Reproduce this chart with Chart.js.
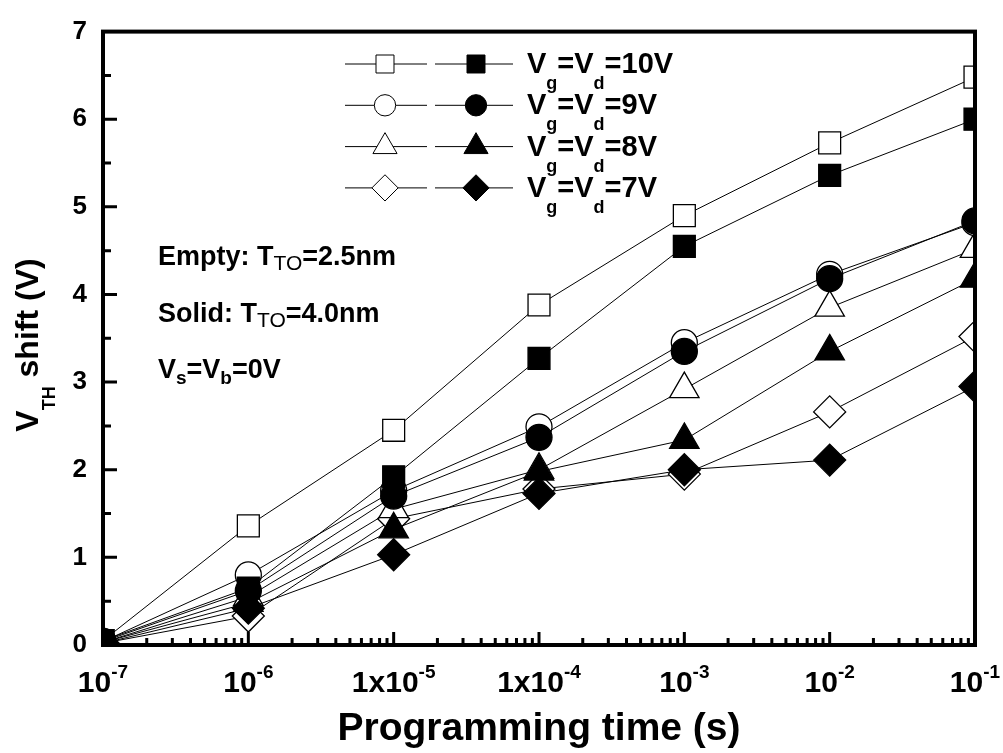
<!DOCTYPE html>
<html>
<head>
<meta charset="utf-8">
<script src="https://cdn.jsdelivr.net/npm/chart.js@4"></script>
<style>
  body { margin: 0; background: #fff; }
  #wrap { width: 1003px; height: 753px; }
</style>
</head>
<body>
<div id="wrap"><canvas id="grafico"></canvas></div>
<script>
// Datos
const times = [1e-7, 1e-6, 1e-5, 1e-4, 1e-3, 1e-2, 1e-1];
const voltages = ['10V', '9V', '8V', '7V'];
const empty10 = [0.05, 1.36, 2.45, 3.88, 4.90, 5.73, 6.48];
const solid10 = [0.05, 0.65, 1.92, 3.27, 4.55, 5.36, 6.00];
const empty9 = [0.04, 0.80, 1.76, 2.49, 3.45, 4.23, 4.82];
const solid9 = [0.04, 0.62, 1.70, 2.37, 3.35, 4.18, 4.84];
const empty8 = [0.03, 0.55, 1.55, 2.00, 2.92, 3.85, 4.52];
const solid8 = [0.03, 0.48, 1.32, 1.98, 2.34, 3.35, 4.18];
const empty7 = [0.02, 0.33, 1.44, 1.78, 1.95, 2.66, 3.52];
const solid7 = [0.02, 0.42, 1.03, 1.73, 2.00, 2.11, 2.95];
const xTickBase = ['10', '10', '1x10', '1x10', '10', '10', '10'];
const xTickExp = ['-7', '-6', '-5', '-4', '-3', '-2', '-1'];

const FONT = "'Liberation Sans', Arial, sans-serif";
const markers = [
    { style: 'rect', radius: 15.5 },
    { style: 'circle', radius: 13 },
    { style: 'triangle', radius: 17 },
    { style: 'rectRot', radius: 16 }
];
const emptySeries = [empty10, empty9, empty8, empty7];
const solidSeries = [solid10, solid9, solid8, solid7];

function makeDataset(values, mk, filled) {
    return {
        data: values.map((v, i) => ({ x: times[i], y: v })),
        borderColor: '#000',
        borderWidth: 1,
        pointStyle: mk.style,
        pointRadius: mk.radius,
        pointBackgroundColor: filled ? '#000' : '#fff',
        pointBorderColor: '#000',
        pointBorderWidth: 1.3,
        tension: 0,
        clip: 0
    };
}

// los rellenos primero para que queden encima
const datasets = [];
solidSeries.forEach((s, i) => datasets.push(makeDataset(s, markers[i], true)));
emptySeries.forEach((s, i) => datasets.push(makeDataset(s, markers[i], false)));

function font(size, bold) {
    return (bold ? 'bold ' : '') + size + 'px ' + FONT;
}

// texto con subindices / superindices: [texto, tamaño, negrita, dy]
function richText(ctx, x, y, parts, align) {
    let total = 0;
    parts.forEach(p => { ctx.font = font(p[1], p[2]); total += ctx.measureText(p[0]).width; });
    let cx = align === 'center' ? x - total / 2 : x;
    ctx.textAlign = 'left';
    ctx.textBaseline = 'alphabetic';
    parts.forEach(p => {
        ctx.font = font(p[1], p[2]);
        ctx.fillText(p[0], cx, y + p[3]);
        cx += ctx.measureText(p[0]).width;
    });
}

const decor = {
    id: 'decor',
    afterDraw(chart) {
        const { ctx, chartArea: a, scales: { x, y } } = chart;
        ctx.save();
        ctx.strokeStyle = '#000';
        ctx.fillStyle = '#000';

        // marcas hacia adentro
        ctx.lineWidth = 3;
        ctx.beginPath();
        for (let d = -7; d <= -1; d++) {
            for (let m = 1; m <= 9; m++) {
                const v = m * Math.pow(10, d);
                if (v > 0.10001) break;
                const px = x.getPixelForValue(v);
                const len = m === 1 ? 13 : 7;
                ctx.moveTo(px, a.bottom);
                ctx.lineTo(px, a.bottom - len);
            }
        }
        for (let v = 0.5; v < 7; v += 0.5) {
            const py = y.getPixelForValue(v);
            const len = v % 1 === 0 ? 14 : 8;
            ctx.moveTo(a.left, py);
            ctx.lineTo(a.left + len, py);
        }
        ctx.stroke();

        // marco
        ctx.lineWidth = 4;
        ctx.strokeRect(a.left, a.top, a.right - a.left, a.bottom - a.top);

        // etiquetas del eje x
        times.forEach((t, i) => {
            const px = x.getPixelForValue(t);
            richText(ctx, px, 692, [[xTickBase[i], 30, true, 0], [xTickExp[i], 19, true, -14]], 'center');
        });

        // titulos
        richText(ctx, (a.left + a.right) / 2, 740, [['Programming time (s)', 39, true, 0]], 'center');
        ctx.save();
        ctx.translate(38, 345);
        ctx.rotate(-Math.PI / 2);
        richText(ctx, 0, 0, [['V', 32, true, 0], ['TH', 18, true, 17], [' shift (V)', 32, true, 0]], 'center');
        ctx.restore();

        // anotaciones
        richText(ctx, 158, 265, [['Empty: T', 27, true, 0], ['TO', 21, false, 5], ['=2.5nm', 27, true, 0]], 'left');
        richText(ctx, 158, 322, [['Solid: T', 27, true, 0], ['TO', 21, false, 5], ['=4.0nm', 27, true, 0]], 'left');
        richText(ctx, 158, 378, [['V', 27, true, 0], ['s', 19, true, 6], ['=V', 27, true, 0], ['b', 19, true, 6], ['=0V', 27, true, 0]], 'left');

        // leyenda
        voltages.forEach((vl, i) => {
            const ry = 64 + i * 41.3;
            ctx.lineWidth = 1;
            ctx.beginPath();
            ctx.moveTo(345, ry); ctx.lineTo(427, ry);
            ctx.moveTo(435, ry); ctx.lineTo(513, ry);
            ctx.stroke();
            const mk = markers[i];
            const opts = { pointStyle: mk.style, radius: mk.radius * 0.82, rotation: 0, borderWidth: 1.3 };
            ctx.fillStyle = '#fff';
            Chart.helpers.drawPoint(ctx, opts, 385, ry);
            ctx.fillStyle = '#000';
            Chart.helpers.drawPoint(ctx, opts, 476, ry);
            richText(ctx, 527, ry + 9, [['V', 29, true, 0], ['g', 18, true, 16], ['=V', 29, true, 0], ['d', 18, true, 16], ['=' + vl, 29, true, 0]], 'left');
        });
        ctx.restore();
    }
};

const ctx = document.getElementById('grafico').getContext('2d');
new Chart(ctx, {
    type: 'line',
    data: { datasets: datasets },
    options: {
        responsive: true,
        maintainAspectRatio: false,
        animation: false,
        layout: { padding: { left: 0, top: 22, right: 28, bottom: 0 } },
        plugins: { legend: { display: false }, tooltip: { enabled: false } },
        scales: {
            x: {
                type: 'logarithmic',
                min: 1e-7,
                max: 1e-1,
                grid: { display: false, drawTicks: false },
                border: { display: false },
                ticks: { display: false },
                afterFit: s => { s.height = 108; }
            },
            y: {
                min: 0,
                max: 7,
                grid: { display: false, drawTicks: false },
                border: { display: false },
                ticks: {
                    stepSize: 1,
                    padding: 16,
                    color: '#000',
                    font: { family: FONT, size: 26, weight: 'bold' }
                },
                afterFit: s => { s.width = 103; }
            }
        }
    },
    plugins: [decor]
});
</script>
</body>
</html>
